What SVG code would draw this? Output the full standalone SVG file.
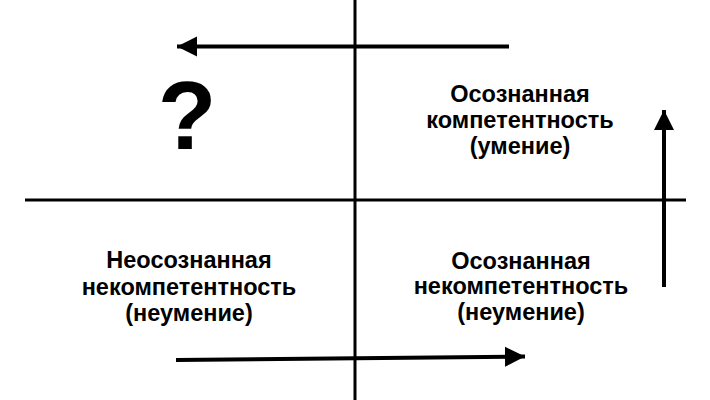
<svg xmlns="http://www.w3.org/2000/svg" width="710" height="400" viewBox="0 0 710 400">
<style>
.ax{stroke:#000;stroke-width:3;fill:none}
.ar{stroke:#000;stroke-width:4;fill:none}
.t{font-family:"Liberation Sans",Arial,sans-serif;font-weight:bold;font-size:23.5px;text-anchor:middle;fill:#000}
.q{font-family:"Liberation Sans",Arial,sans-serif;font-weight:bold;font-size:96px;text-anchor:middle;fill:#000}
</style>
<defs>
<marker id="ah" markerWidth="6" markerHeight="6" refX="5" refY="3" orient="auto" markerUnits="strokeWidth">
<path d="M0,0.5 L5,3 L0,5.5 Z" fill="#000"/>
</marker>
</defs>
<g id="axes">
<line class="ax" x1="355" y1="0" x2="355" y2="400"/>
<line class="ax" x1="25" y1="200" x2="686" y2="200"/>
</g>
<g id="connectors">
<line class="ar" x1="509" y1="46.5" x2="177" y2="46.5" marker-end="url(#ah)"/>
<line class="ar" x1="664" y1="287" x2="664" y2="110" marker-end="url(#ah)"/>
<line class="ar" x1="176" y1="360" x2="525" y2="356.5" marker-end="url(#ah)"/>
</g>
<g id="q1"><text class="q" x="187" y="149">?</text></g>
<g id="q2">
<text class="t" x="520" y="102">Осознанная</text>
<text class="t" x="520" y="128">компетентность</text>
<text class="t" x="520" y="154">(умение)</text>
</g>
<g id="q3">
<text class="t" x="189" y="268">Неосознанная</text>
<text class="t" x="189" y="295">некомпетентность</text>
<text class="t" x="189" y="321">(неумение)</text>
</g>
<g id="q4">
<text class="t" x="521" y="269">Осознанная</text>
<text class="t" x="521" y="294">некомпетентность</text>
<text class="t" x="521" y="320">(неумение)</text>
</g>
</svg>
